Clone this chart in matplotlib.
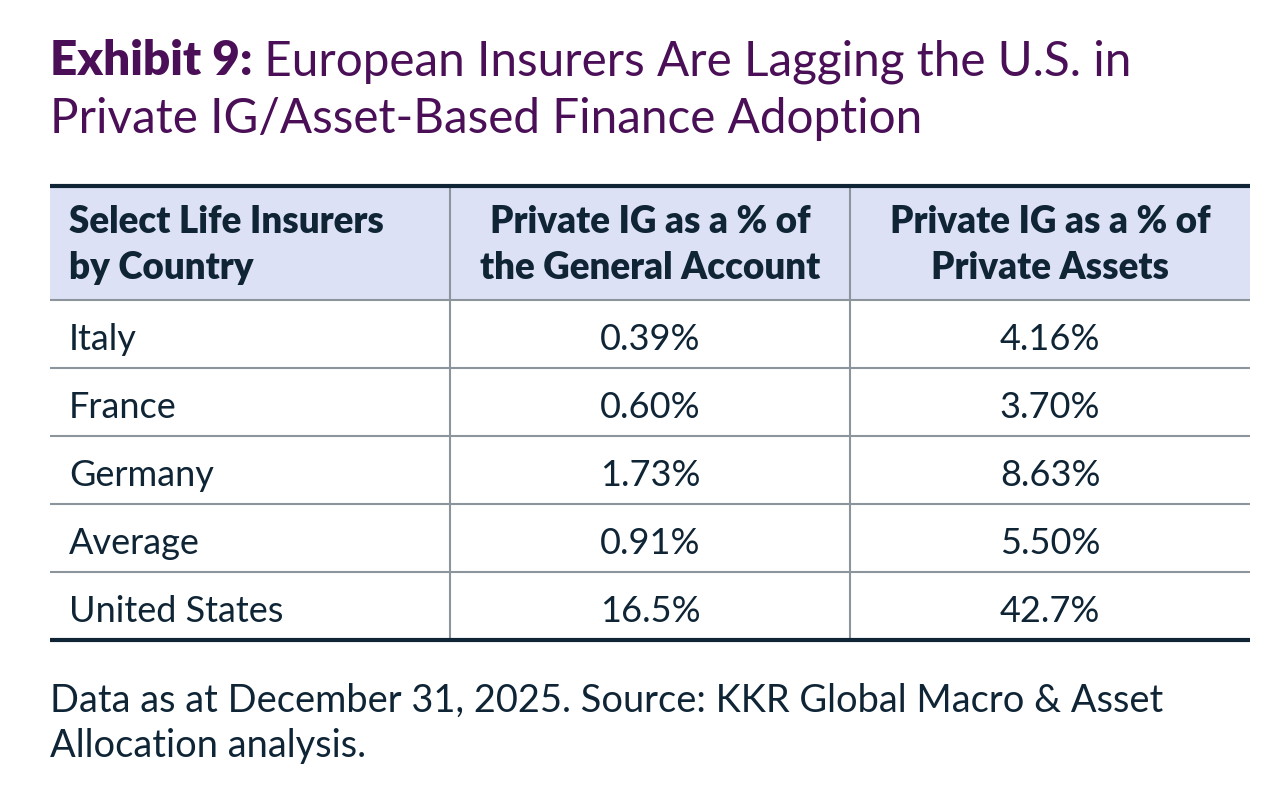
import matplotlib
matplotlib.use("Agg")
import matplotlib.pyplot as plt

# Table data
countries = ["Italy", "France", "Germany", "Average", "United States"]
pct_general_account = ["0.39%", "0.60%", "1.73%", "0.91%", "16.5%"]
pct_private_assets = ["4.16%", "3.70%", "8.63%", "5.50%", "42.7%"]
headers = [["Select Life Insurers", "by Country"],
           ["Private IG as a % of", "the General Account"],
           ["Private IG as a % of", "Private Assets"]]

title_bold = "Exhibit 9:"
title_rest = " European Insurers Are Lagging the U.S. in"
title_line2 = "Private IG/Asset-Based Finance Adoption"
footnote = ["Data as at December 31, 2025. Source: KKR Global Macro & Asset",
            "Allocation analysis."]

PURPLE = "#4a0f57"
NAVY = "#0f2536"
HEADER_BG = "#dde1f5"
GRID = "#8c959c"
FONT = "Lato"

fig = plt.figure(figsize=(12.8, 8.02), dpi=100)
ax = fig.add_axes([0, 0, 1, 1])
ax.set_xlim(0, 1280)
ax.set_ylim(802, 0)
ax.axis("off")

# title: bold prefix followed by regular text
t = ax.text(50, 75, title_bold, fontsize=34.3, fontweight="heavy", color=PURPLE,
            family=FONT, va="baseline")
fig.canvas.draw()
x_end = ax.transData.inverted().transform((t.get_window_extent().x1, 0))[0]
ax.text(x_end, 75, title_rest, fontsize=34.3, color=PURPLE, family=FONT,
        va="baseline")
ax.text(50, 133, title_line2, fontsize=34.3, color=PURPLE, family=FONT,
        va="baseline")

# table geometry
left, right = 50, 1250
col_edges = [left, 450, 850, right]
top, header_bottom = 186, 300
row_h = 68
n = len(countries)
bottom = header_bottom + row_h * n

ax.add_patch(plt.Rectangle((left, top), right - left, header_bottom - top,
                           facecolor=HEADER_BG, edgecolor="none"))

# header text
for i, lines in enumerate(headers):
    for j, line in enumerate(lines):
        y = 233 + 46 * j
        if i == 0:
            ax.text(69, y, line, fontsize=26.5, fontweight="heavy", color=NAVY,
                    family=FONT, va="baseline", ha="left")
        else:
            cx = (col_edges[i] + col_edges[i + 1]) / 2
            ax.text(cx, y, line, fontsize=26.5, fontweight="heavy", color=NAVY,
                    family=FONT, va="baseline", ha="center")

# rows
for r in range(n):
    by = header_bottom + row_h * r + 50
    ax.text(69, by, countries[r], fontsize=26, color=NAVY, family=FONT,
            va="baseline", ha="left")
    ax.text((col_edges[1] + col_edges[2]) / 2, by, pct_general_account[r],
            fontsize=26, color=NAVY, family=FONT, va="baseline", ha="center")
    ax.text((col_edges[2] + col_edges[3]) / 2, by, pct_private_assets[r],
            fontsize=26, color=NAVY, family=FONT, va="baseline", ha="center")

# grid lines
for r in range(n):
    y = header_bottom + row_h * r
    ax.plot([left, right], [y, y], color=GRID, lw=1.5, solid_capstyle="butt")
for xe in col_edges[1:3]:
    ax.plot([xe, xe], [top, bottom], color=GRID, lw=1.5, solid_capstyle="butt")
ax.plot([left, right], [top, top], color=NAVY, lw=3, solid_capstyle="butt")
ax.plot([left, right], [bottom, bottom], color=NAVY, lw=3, solid_capstyle="butt")

# footnote
for j, line in enumerate(footnote):
    ax.text(50, 712 + 45 * j, line, fontsize=27.4, color=NAVY, family=FONT,
            va="baseline")

fig.savefig("out.png", dpi=100)
